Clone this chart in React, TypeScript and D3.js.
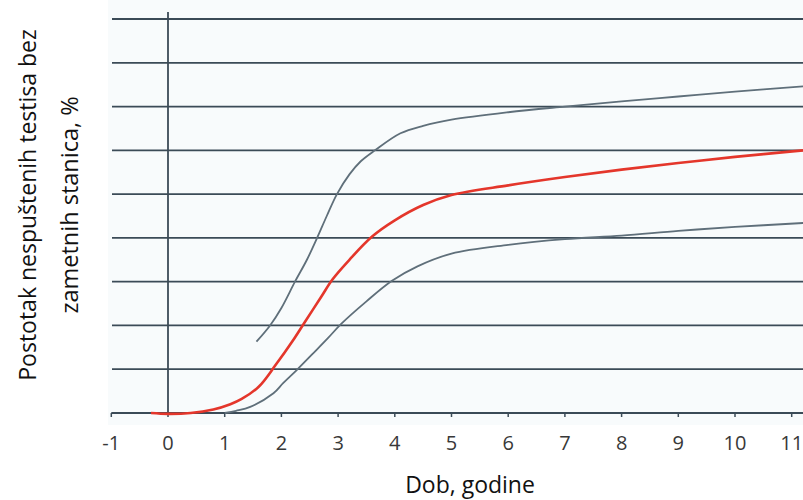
import React from 'react';
import * as d3 from 'd3';

// age in years -> percent of undescended testes without germ cells
const redAges = [-0.3, 0, 0.4, 0.8, 1.1, 1.3, 1.6, 1.9, 2.2, 2.4, 2.7, 2.9, 3.2, 3.6, 4.0, 4.5, 5, 6, 7, 8, 9, 10, 11.2];
const redValues = [0, -0.2, 0, 0.8, 2, 3.2, 6, 11, 16.5, 20.5, 26.5, 30.5, 35, 40.3, 44, 47.5, 49.8, 52, 53.9, 55.6, 57.1, 58.5, 60];

const upperAges = [1.56, 1.8, 2.0, 2.24, 2.45, 2.63, 2.8, 2.98, 3.2, 3.4, 3.65, 4.1, 4.5, 5, 6, 7, 8, 9, 10, 11.2];
const upperValues = [16.3, 20, 24, 30, 35, 40, 45, 50, 54.5, 57.5, 60, 63.9, 65.6, 67, 68.7, 70, 71.2, 72.3, 73.4, 74.6];

const lowerAges = [1.0, 1.2, 1.45, 1.86, 2.03, 2.27, 2.55, 2.82, 3.05, 3.5, 3.95, 4.4, 5, 6, 7, 8, 9, 10, 11.2];
const lowerValues = [0, 0.5, 1.4, 4.5, 6.8, 9.8, 13.5, 17.1, 20.3, 25.5, 30.2, 33.5, 36.4, 38.4, 39.7, 40.5, 41.6, 42.5, 43.4];

const xTicks = [-1, 0, 1, 2, 3, 4, 5, 6, 7, 8, 9, 10, 11];
const gridValues = [10, 20, 30, 40, 50, 60, 70, 80, 90];

const W = 803;
const H = 500;

const App: React.FC = () => {
  const x = d3.scaleLinear().domain([-1, 11]).range([111.3, 791.7]);
  const y = d3.scaleLinear().domain([0, 90]).range([413, 19]);

  const line = d3
    .line<[number, number]>()
    .x((d) => x(d[0]))
    .y((d) => y(d[1]))
    .curve(d3.curveCatmullRom);

  const zip = (a: number[], b: number[]) => a.map((v, i) => [v, b[i]] as [number, number]);

  const font = "'Open Sans', 'Noto Sans', sans-serif";
  const gridColor = '#3b4b57';

  return (
    <svg width={W} height={H} style={{ position: 'absolute', left: 0, top: 0 }}>
      <rect x={0} y={0} width={W} height={H} fill="#ffffff" />
      <rect x={108} y={0} width={W - 108} height={425} fill="#f8fbfc" />

      {/* horizontal grid */}
      <g className="grid">
        {gridValues.map((v) => (
          <line key={v} x1={112} x2={W} y1={y(v)} y2={y(v)} stroke={gridColor} strokeWidth={1.8} />
        ))}
      </g>

      {/* vertical axis at age 0 */}
      <line x1={x(0)} x2={x(0)} y1={12} y2={y(0)} stroke={gridColor} strokeWidth={1.8} />

      {/* x axis */}
      <g className="x-axis">
        <line x1={x(-1)} x2={W} y1={y(0)} y2={y(0)} stroke={gridColor} strokeWidth={1.8} />
        {xTicks.map((t) => (
          <g key={t} transform={`translate(${x(t)},${y(0)})`}>
            <line y1={0} y2={4} stroke={gridColor} strokeWidth={1.5} />
            <text y={37} textAnchor="middle" fontFamily={font} fontSize={20} fill="#383838">
              {t}
            </text>
          </g>
        ))}
      </g>

      {/* curves */}
      <path d={line(zip(upperAges, upperValues)) || ''} fill="none" stroke="#5f6f7a" strokeWidth={1.8} />
      <path d={line(zip(lowerAges, lowerValues)) || ''} fill="none" stroke="#5f6f7a" strokeWidth={1.8} />
      <path d={line(zip(redAges, redValues)) || ''} fill="none" stroke="#e4362b" strokeWidth={2.6} />

      {/* axis titles */}
      <text
        transform="translate(36,205) rotate(-90)"
        textAnchor="middle"
        fontFamily={font}
        fontSize={23}
        fill="#111"
      >
        Postotak nespuštenih testisa bez
      </text>
      <text
        transform="translate(78,205) rotate(-90)"
        textAnchor="middle"
        fontFamily={font}
        fontSize={23.5}
        fill="#111"
      >
        zametnih stanica, %
      </text>
      <text x={470} y={493} textAnchor="middle" fontFamily={font} fontSize={23} fill="#111">
        Dob, godine
      </text>
    </svg>
  );
};

export default App;
